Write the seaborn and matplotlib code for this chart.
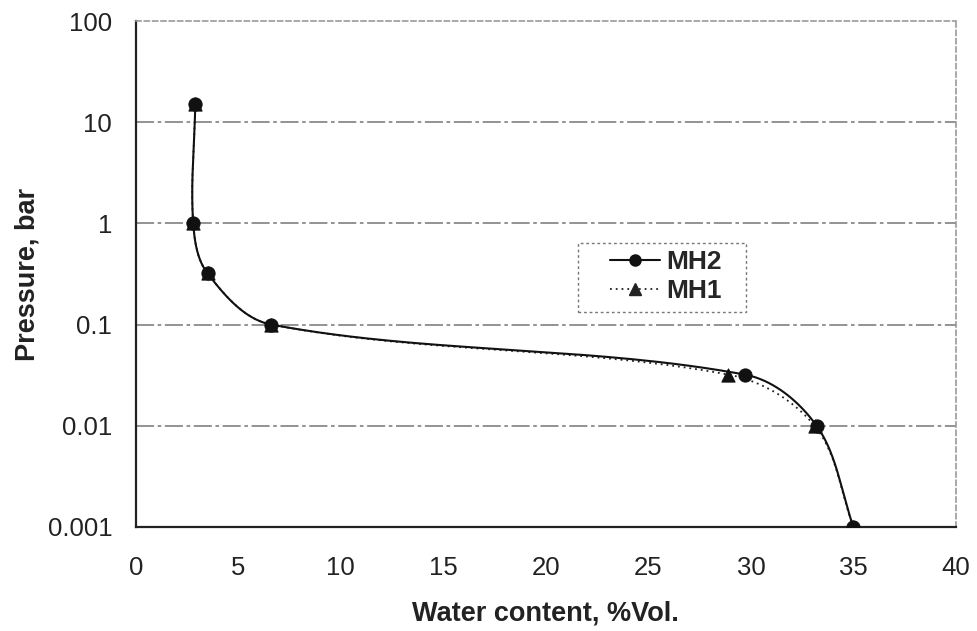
import numpy as np
import pandas as pd
import matplotlib
matplotlib.use('Agg')
import matplotlib.pyplot as plt
from matplotlib.lines import Line2D
from matplotlib.patches import Rectangle
import seaborn as sns

# values
mh2_water = [2.9, 2.8, 3.5, 6.6, 29.7, 33.2, 35.0]
mh2_pressure = [15.0, 1.0, 0.32, 0.1, 0.032, 0.01, 0.001]
mh1_water = [2.9, 2.8, 3.5, 6.6, 28.9, 33.1, 35.0]
mh1_pressure = [15.0, 1.0, 0.32, 0.1, 0.032, 0.01, 0.001]

x_ticks = [0, 5, 10, 15, 20, 25, 30, 35, 40]
y_ticks = [0.001, 0.01, 0.1, 1, 10, 100]
y_tick_labels = ['0.001', '0.01', '0.1', '1', '10', '100']


def smooth_curve(xs, ys, n=60):
    # smoothed line like the spreadsheet one, bezier segments in
    # screen space (x, log y), handles scaled by segment length
    px = np.asarray(xs, float) / 40.0 * 820
    py = np.log10(np.asarray(ys, float)) / 5.0 * 506
    pts = np.column_stack([px, py])
    m = len(pts)
    dirs = []
    for i in range(m):
        a = pts[max(i - 1, 0)]
        b = pts[min(i + 1, m - 1)]
        d = b - a
        dirs.append(d / np.linalg.norm(d))
    out = []
    t = np.linspace(0, 1, n)[:, None]
    for i in range(m - 1):
        p1, p2 = pts[i], pts[i + 1]
        L = np.linalg.norm(p2 - p1)
        c1 = p1 + dirs[i] * L / 3.0
        c2 = p2 - dirs[i + 1] * L / 3.0
        seg = ((1 - t) ** 3) * p1 + 3 * ((1 - t) ** 2) * t * c1 \
            + 3 * (1 - t) * t ** 2 * c2 + t ** 3 * p2
        out.append(seg)
    out = np.vstack(out)
    return out[:, 0] / 820 * 40.0, 10 ** (out[:, 1] / 506 * 5.0)


sns.set_style('white')
plt.rcParams['font.family'] = ['Liberation Sans', 'DejaVu Sans']

fig = plt.figure(figsize=(9.77, 6.31), dpi=100)
ax = fig.add_axes([0.139, 0.165, 0.8395, 0.8017])

dotted = (0, (1, 2.2))

sx, sy = smooth_curve(mh1_water, mh1_pressure)
sns.lineplot(x=sx, y=sy, sort=False, estimator=None, ax=ax,
             color='#222222', linestyle=dotted, linewidth=1.3)
sx, sy = smooth_curve(mh2_water, mh2_pressure)
sns.lineplot(x=sx, y=sy, sort=False, estimator=None, ax=ax,
             color='#111111', linewidth=1.5)

sns.scatterplot(x=mh1_water, y=mh1_pressure, marker='^', s=90,
                color='#111111', edgecolor='#111111', ax=ax, zorder=3)
sns.scatterplot(x=mh2_water, y=mh2_pressure, marker='o', s=90,
                color='#111111', edgecolor='#111111', ax=ax, zorder=4)

ax.set_yscale('log')
ax.set_xlim(0, 40)
ax.set_ylim(0.001, 100)
ax.set_xticks(x_ticks)
ax.set_xticklabels([str(v) for v in x_ticks])
ax.set_yticks(y_ticks)
ax.set_yticklabels(y_tick_labels)
ax.minorticks_off()
ax.tick_params(axis='both', labelsize=18.5, colors='#222222', direction='out',
               length=5, width=1)
ax.tick_params(axis='y', pad=12)
ax.tick_params(axis='x', pad=16)

for v in y_ticks[1:-1]:
    ax.axhline(v, color='#8a8a8a', linewidth=1.3, linestyle=(0, (10, 2, 2, 2)),
               zorder=1)

for side in ['top', 'right']:
    ax.spines[side].set_color('#9a9a9a')
    ax.spines[side].set_linestyle((0, (3, 2)))
    ax.spines[side].set_linewidth(1.2)
for side in ['left', 'bottom']:
    ax.spines[side].set_color('#222222')
    ax.spines[side].set_linewidth(1.6)

ax.set_xlabel('Water content, %Vol.', fontsize=19.5, fontweight='bold',
              color='#222222', labelpad=15)
ax.set_ylabel('Pressure, bar', fontsize=19.5, fontweight='bold',
              color='#222222', labelpad=5)

# legend box drawn as its own frame, entries placed inside
ax.add_patch(Rectangle((0.539, 0.425), 0.205, 0.136, transform=ax.transAxes,
                       facecolor='white', edgecolor='#777777', linewidth=1.0,
                       linestyle=(0, (2, 2)), zorder=5))
handles = [
    Line2D([], [], color='#111111', linewidth=1.5, marker='o', markersize=8),
    Line2D([], [], color='#222222', linewidth=1.3, linestyle=dotted,
           marker='^', markersize=8),
]
leg = ax.legend(handles, ['MH2', 'MH1'], loc='upper left',
                bbox_to_anchor=(0.578, 0.547), frameon=False,
                handlelength=1.9, handletextpad=0.25, borderpad=0,
                borderaxespad=0, labelspacing=0.2,
                prop={'weight': 'bold', 'size': 19})
leg.set_zorder(6)

fig.savefig('out.png', dpi=100, facecolor='white')
